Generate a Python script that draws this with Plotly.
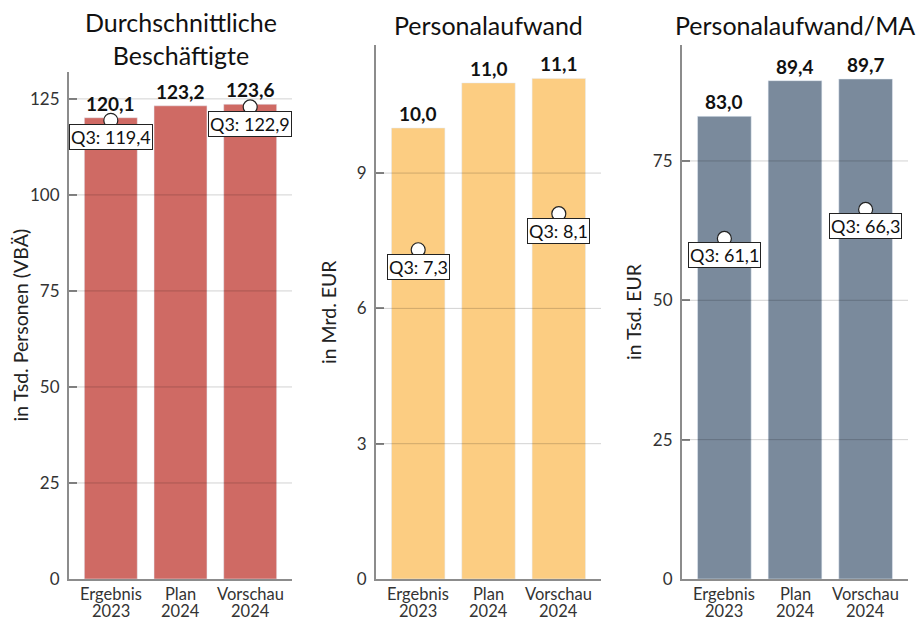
import plotly.graph_objects as go

# Categories and values for the three panels
categories = ["Ergebnis 2023", "Plan 2024", "Vorschau 2024"]

employees = [120.1, 123.2, 123.6]          # Tsd. Personen (VBÄ)
employees_q3 = [119.4, None, 122.9]

personnel_cost = [10.0, 11.0, 11.1]        # Mrd. EUR
personnel_cost_q3 = [7.3, None, 8.1]

cost_per_employee = [83.0, 89.4, 89.7]     # Tsd. EUR
cost_per_employee_q3 = [61.1, None, 66.3]

titles = ["Durchschnittliche<br>Beschäftigte", "Personalaufwand", "Personalaufwand/MA"]
y_titles = ["in Tsd. Personen (VBÄ)", "in Mrd. EUR", "in Tsd. EUR"]
tick_values = [[0, 25, 50, 75, 100, 125], [0, 3, 6, 9], [0, 25, 50, 75]]

W, H = 916, 621
FONT = "Lato, 'Noto Sans', sans-serif"

panels = [
    dict(values=employees, q3=employees_q3, color="#CF6A64", yrange=[0, 132.0],
         xdom=[69, 292], ytop=72),
    dict(values=personnel_cost, q3=personnel_cost_q3, color="#FCCD82", yrange=[0, 11.84],
         xdom=[376, 601], ytop=45),
    dict(values=cost_per_employee, q3=cost_per_employee_q3, color="#7A8A9C", yrange=[0, 95.8],
         xdom=[682, 908], ytop=45),
]
ybottom = 579
y_title_x = [20, 328, 633]
category_line_y = [594, 610.5]   # pixel rows of the two category label lines


def fmt(v):
    return f"{v:.1f}".replace(".", ",")


fig = go.Figure()
annotations = []
shapes = []

for i, p in enumerate(panels):
    n = "" if i == 0 else str(i + 1)
    xa, ya = "x" + n, "y" + n

    fig.add_trace(go.Bar(
        x=categories, y=p["values"], marker_color=p["color"], width=0.76,
        xaxis=xa, yaxis=ya, hoverinfo="skip", showlegend=False,
    ))

    q3x = [c for c, q in zip(categories, p["q3"]) if q is not None]
    q3y = [q for q in p["q3"] if q is not None]
    fig.add_trace(go.Scatter(
        x=q3x, y=q3y, mode="markers", xaxis=xa, yaxis=ya,
        marker=dict(size=14, color="white", line=dict(color="#222", width=1.2)),
        hoverinfo="skip", showlegend=False,
    ))

    # Bar value labels
    for c, v in zip(categories, p["values"]):
        annotations.append(dict(
            x=c, y=v, xref=xa, yref=ya, text=f"<b>{fmt(v)}</b>", showarrow=False,
            yanchor="bottom", yshift=1, font=dict(family=FONT, size=19, color="#111"),
        ))

    # Q3 boxed labels
    for c, q in zip(q3x, q3y):
        annotations.append(dict(
            x=c, y=q, xref=xa, yref=ya, text=f"Q3: {fmt(q)}", showarrow=False,
            yanchor="top", yshift=-4, bgcolor="white", bordercolor="#222",
            borderwidth=1, borderpad=1, font=dict(family=FONT, size=18, color="#111"),
        ))

    # Two-line category labels with tight line spacing
    for c in categories:
        for line, ypix in zip(c.split(" "), category_line_y):
            annotations.append(dict(
                x=c, y=1 - ypix / H, xref=xa, yref="paper", text=line, showarrow=False,
                xanchor="center", yanchor="middle",
                font=dict(family=FONT, size=16.5, color="#333"),
            ))

    # Grid lines drawn over the bars
    for t in tick_values[i][1:]:
        shapes.append(dict(
            type="line", xref=xa + " domain", yref=ya, x0=0, x1=1, y0=t, y1=t,
            line=dict(color="rgba(0,0,0,0.18)", width=1), layer="above",
        ))

    xd = [p["xdom"][0] / W, p["xdom"][1] / W]
    yd = [1 - ybottom / H, 1 - p["ytop"] / H]

    fig.update_layout(**{
        ("xaxis" + n): dict(
            domain=xd, range=[-0.6, 2.6], anchor=ya, showline=True, linecolor="#8c8c8c",
            linewidth=2, ticks="", showgrid=False, fixedrange=True, automargin=False,
            showticklabels=False,
        ),
        ("yaxis" + n): dict(
            domain=yd, range=p["yrange"], anchor=xa, showline=True, linecolor="#8c8c8c",
            linewidth=2, ticks="inside", ticklen=8, tickcolor="#8c8c8c", tickwidth=1.5,
            tickvals=tick_values[i], showgrid=False, zeroline=False, fixedrange=True,
            automargin=False, tickfont=dict(family=FONT, size=17, color="#333"),
            ticklabelstandoff=4,
        ),
    })

    cx = (xd[0] + xd[1]) / 2
    annotations.append(dict(
        x=cx, y=1 - (25 if i else 38) / H, xref="paper", yref="paper", text=titles[i],
        showarrow=False, xanchor="center", yanchor="middle",
        font=dict(family=FONT, size=25, color="#111"),
    ))
    annotations.append(dict(
        x=y_title_x[i] / W, y=(yd[0] + yd[1]) / 2, xref="paper", yref="paper",
        text=y_titles[i], textangle=-90, showarrow=False, xanchor="center", yanchor="middle",
        font=dict(family=FONT, size=19.5, color="#222"),
    ))

fig.update_layout(
    width=W, height=H, margin=dict(l=0, r=0, t=0, b=0, autoexpand=False),
    plot_bgcolor="white", paper_bgcolor="white",
    annotations=annotations, shapes=shapes, bargap=0.2,
)

fig.write_html("out.html")
